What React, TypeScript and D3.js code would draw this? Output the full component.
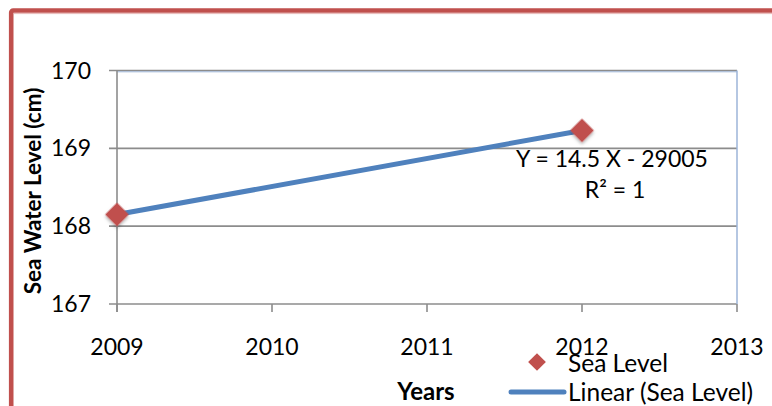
import React from "react";
import * as d3 from "d3";

// Observed sea water level (cm) by year
const years = [2009, 2012];
const seaLevel = [168.15, 169.23];

const xTicks = [2009, 2010, 2011, 2012, 2013];
const yTicks = [167, 168, 169, 170];

const equationText = "Y = 14.5 X - 29005";
const r2Text = "R² = 1";

const W = 772;
const H = 406;
const FONT = "Lato, 'Open Sans', sans-serif";
const RED = "#C0504D";
const BLUE = "#4F81BD";
const GRID = "#8C8C8C";

export default function App() {
  const x = d3.scaleLinear().domain([2009, 2013]).range([117, 737]);
  const y = d3.scaleLinear().domain([167, 170]).range([304, 70.5]);

  const pts = years.map((yr, i) => ({ yr, v: seaLevel[i] }));

  // least-squares trend over the observed points
  const mx = d3.mean(years)!;
  const my = d3.mean(seaLevel)!;
  const slope =
    d3.sum(pts, (p) => (p.yr - mx) * (p.v - my)) /
    d3.sum(pts, (p) => (p.yr - mx) ** 2);
  const icpt = my - slope * mx;
  const trendYears = [d3.min(years)!, d3.max(years)!];
  const trend = d3
    .line<number>()
    .x((d) => x(d))
    .y((d) => y(slope * d + icpt))(trendYears);

  const diamond = d3.symbol().type(d3.symbolSquare).size(280)();

  return (
    <svg
      width={W}
      height={H}
      style={{ position: "absolute", left: 0, top: 0, background: "#fff" }}
      fontFamily={FONT}
    >
      <defs>
        <filter id="mshadow" x="-50%" y="-50%" width="200%" height="200%">
          <feDropShadow dx="1.5" dy="1.5" stdDeviation="1.5" floodColor="#000" floodOpacity="0.3" />
        </filter>
      </defs>

      {/* chart frame */}
      <rect x={11.2} y={10.5} width={W + 20} height={H + 20} fill="none" stroke={RED} strokeWidth={4.6} rx={2} />
      <line x1={14} x2={W} y1={13.6} y2={13.6} stroke="#E8B8B7" strokeWidth={1} />

      {/* horizontal gridlines */}
      {yTicks.map((t) => (
        <line key={t} x1={109} x2={x(2013)} y1={y(t)} y2={y(t)} stroke={GRID} strokeWidth={1.6} />
      ))}
      {/* plot area outline, top and right */}
      <line x1={x(2009)} x2={x(2013)} y1={y(170) + 1.3} y2={y(170) + 1.3} stroke="#9DB5D8" strokeWidth={1} />
      <line x1={x(2013)} x2={x(2013)} y1={y(170)} y2={y(167)} stroke="#9DB5D8" strokeWidth={1.5} />

      {/* axes */}
      <line x1={x(2009)} x2={x(2009)} y1={y(170)} y2={y(167) + 8} stroke={GRID} strokeWidth={1.6} />
      {xTicks.map((t) => (
        <line key={t} x1={x(t)} x2={x(t)} y1={y(167)} y2={y(167) + 8} stroke={GRID} strokeWidth={1.6} />
      ))}

      {/* tick labels */}
      {yTicks.map((t) => (
        <text key={t} x={91} y={y(t) + 8} textAnchor="end" fontSize={23} fill="#000">
          {t}
        </text>
      ))}
      {xTicks.map((t) => (
        <text key={t} x={x(t)} y={355} textAnchor="middle" fontSize={23} fill="#000">
          {t}
        </text>
      ))}

      {/* axis titles */}
      <text
        transform={`translate(41, ${191}) rotate(-90)`}
        textAnchor="middle"
        fontSize={22.5}
        fontWeight="bold"
        fill="#000"
      >
        Sea Water Level (cm)
      </text>
      <text x={426} y={400} textAnchor="middle" fontSize={24} fontWeight="bold" fill="#000">
        Years
      </text>

      {/* trend line */}
      <path d={trend ?? ""} fill="none" stroke={BLUE} strokeWidth={5} strokeLinecap="round" />

      {/* data markers */}
      {pts.map((p) => (
        <path
          key={p.yr}
          d={diamond ?? ""}
          transform={`translate(${x(p.yr)}, ${y(p.v)}) rotate(45)`}
          fill={RED}
          filter="url(#mshadow)"
        />
      ))}

      {/* regression label */}
      <text x={612} y={167} textAnchor="middle" fontSize={23} fill="#000">
        {equationText}
      </text>
      <text x={615} y={198} textAnchor="middle" fontSize={23} fill="#000">
        {r2Text}
      </text>

      {/* legend */}
      <path d={diamond ?? ""} transform={`translate(537, 362) rotate(45) scale(0.75)`} fill={RED} />
      <text x={568} y={372} fontSize={24.5} fill="#000">
        Sea Level
      </text>
      <line x1={511} x2={564} y1={392} y2={392} stroke={BLUE} strokeWidth={5} strokeLinecap="round" />
      <text x={568} y={401} fontSize={24.5} fill="#000">
        Linear (Sea Level)
      </text>
    </svg>
  );
}
